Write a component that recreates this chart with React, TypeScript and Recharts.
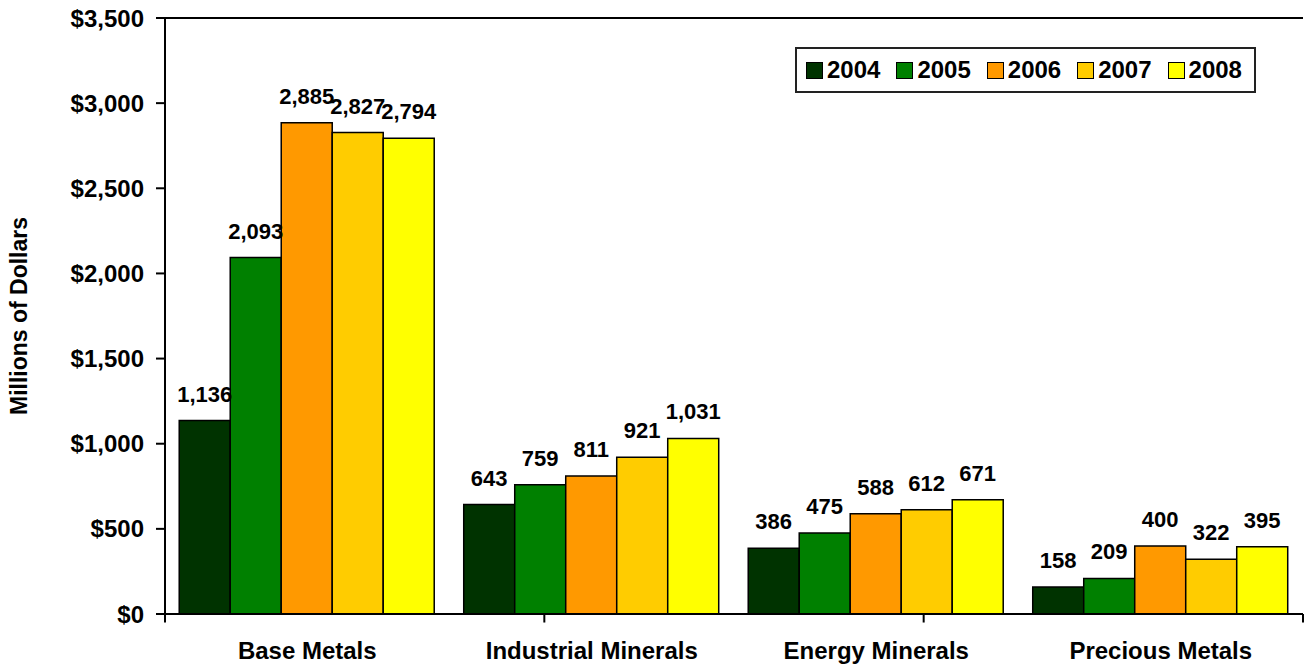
import React from 'react';
import { BarChart, Bar, XAxis, YAxis, ReferenceLine, Legend, LabelList } from 'recharts';

const categories = ['Base Metals', 'Industrial Minerals', 'Energy Minerals', 'Precious Metals'];
const years = ['2004', '2005', '2006', '2007', '2008'];
const v2004 = [1136, 643, 386, 158];
const v2005 = [2093, 759, 475, 209];
const v2006 = [2885, 811, 588, 400];
const v2007 = [2827, 921, 612, 322];
const v2008 = [2794, 1031, 671, 395];
const colors = ['#003300', '#008000', '#FF9900', '#FFCC00', '#FFFF00'];
const yTicks = [0, 500, 1000, 1500, 2000, 2500, 3000, 3500];
const boundaries = [0, 1, 2, 3, 4];

const seriesValues = [v2004, v2005, v2006, v2007, v2008];
const data = categories.map((name, i) => {
  const row: Record<string, string | number> = { name };
  years.forEach((y, j) => { row[y] = seriesValues[j][i]; });
  return row;
});

const FONT = '"Liberation Sans", Arial, sans-serif';

const renderLegend = (props: any) => {
  const { payload } = props;
  return (
    <div style={{ display: 'flex', alignItems: 'center', border: '2px solid #222', background: '#fff', padding: '6px 12px 6px 9px', fontFamily: FONT }}>
      {payload.map((p: any, i: number) => (
        <div key={p.value} style={{ display: 'flex', alignItems: 'center', marginLeft: i === 0 ? 0 : 16 }}>
          <span style={{ width: 15, height: 15, background: p.color, border: '1.5px solid #000', display: 'inline-block', marginRight: 4 }} />
          <span style={{ fontSize: 24, fontWeight: 'bold', color: '#000', lineHeight: '30px' }}>{p.value}</span>
        </div>
      ))}
    </div>
  );
};

export default function App() {
  return (
    <div style={{ position: 'absolute', left: 0, top: 0, width: 1304, height: 667, background: '#fff', fontFamily: FONT }}>
      <BarChart width={1304} height={667} data={data} margin={{ top: 18, right: 1, bottom: 0, left: 0 }} barCategoryGap="5%" barGap={0}>
        <XAxis
          dataKey="name"
          height={53}
          tickLine={false}
          tickSize={8}
          tickMargin={20}
          axisLine={{ stroke: '#000', strokeWidth: 2 }}
          tick={{ fontSize: 24, fontWeight: 'bold', fill: '#000', fontFamily: FONT }}
          interval={0}
        />
        <XAxis xAxisId="b" type="number" domain={[0, 4]} hide allowDataOverflow />
        <YAxis
          width={165}
          domain={[0, 3500]}
          ticks={yTicks}
          interval={0}
          tickSize={9}
          tickMargin={12}
          tickFormatter={(v: number) => `$${v.toLocaleString('en-US')}`}
          axisLine={{ stroke: '#000', strokeWidth: 2 }}
          tickLine={{ stroke: '#000', strokeWidth: 2 }}
          tick={{ fontSize: 24, fontWeight: 'bold', fill: '#000', fontFamily: FONT }}
          label={{ value: 'Millions of Dollars', angle: -90, position: 'center', dx: -64, style: { fontSize: 23, fontWeight: 'bold', fill: '#000', fontFamily: FONT } }}
        />
        <ReferenceLine y={3500} stroke="#000" strokeWidth={2} ifOverflow="visible" />
        <ReferenceLine xAxisId="b" x={4} stroke="#000" strokeWidth={2} ifOverflow="visible" />
        {boundaries.map((b) => (
          <ReferenceLine
            key={b}
            xAxisId="b"
            segment={[{ x: b, y: 0 }, { x: b, y: -50 }]}
            stroke="#000"
            strokeWidth={2}
            ifOverflow="visible"
          />
        ))}
        <Legend
          layout="horizontal"
          verticalAlign="middle"
          align="center"
          content={renderLegend}
          wrapperStyle={{ position: 'absolute', left: 795, top: 47, width: 'auto', height: 'auto' }}
        />
        {years.map((y, j) => (
          <Bar key={y} dataKey={y} fill={colors[j]} stroke="#000" strokeWidth={1.5} isAnimationActive={false}>
            <LabelList
              dataKey={y}
              position="top"
              offset={19}
              formatter={(v: any) => Number(v).toLocaleString('en-US')}
              style={{ fontSize: 22, fontWeight: 'bold', fill: '#000', fontFamily: FONT }}
            />
          </Bar>
        ))}
      </BarChart>
    </div>
  );
}
